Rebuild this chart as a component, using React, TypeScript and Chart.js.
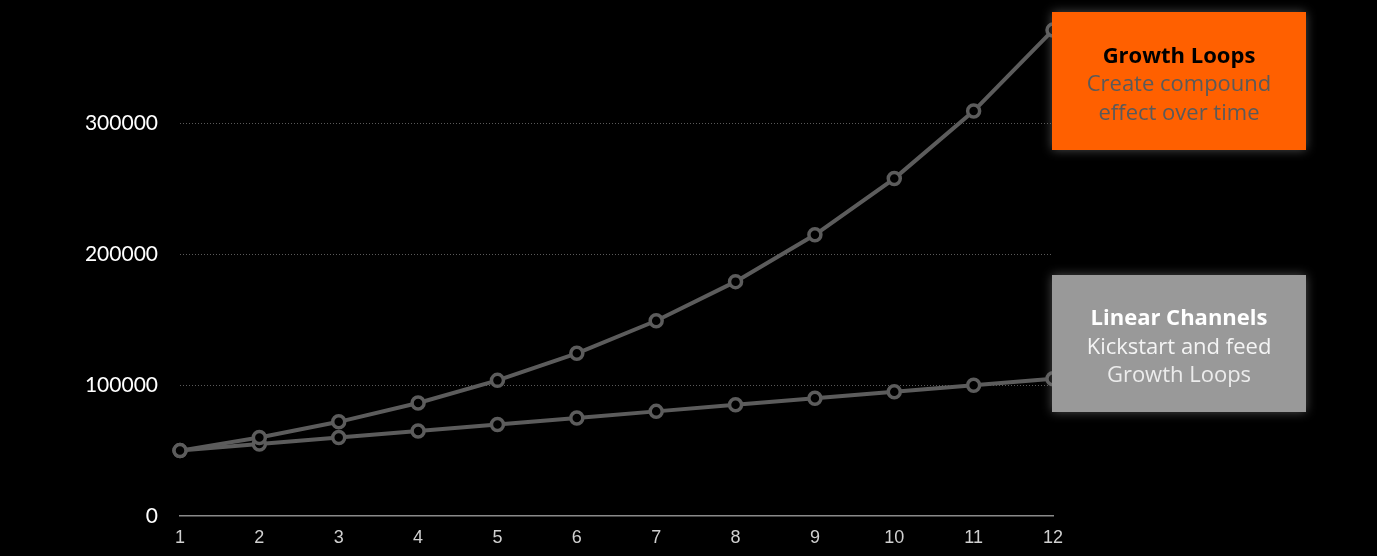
import React, { useEffect, useRef } from "react";
import { Chart, registerables } from "chart.js";

Chart.register(...registerables);

const periods = ["1", "2", "3", "4", "5", "6", "7", "8", "9", "10", "11", "12"];
const growthLoops = [50000, 60000, 72000, 86400, 103700, 124400, 149300, 179200, 215000, 258000, 309600, 371500];
const linearChannels = [50000, 55000, 60000, 65000, 70000, 75000, 80000, 85000, 90000, 95000, 100000, 105000];
const yTicks = [0, 100000, 200000, 300000];

const W = 1377;
const H = 556;

export default function App() {
  const ref = useRef<HTMLCanvasElement | null>(null);

  useEffect(() => {
    if (!ref.current) return;
    const lineColor = "#5c5c5c";
    const chart = new Chart(ref.current, {
      type: "line",
      data: {
        labels: periods,
        datasets: [
          {
            label: "Growth Loops",
            data: growthLoops,
            borderColor: lineColor,
            borderWidth: 4,
            pointRadius: 6,
            pointBorderWidth: 3.5,
            pointBorderColor: lineColor,
            pointBackgroundColor: "#000",
            tension: 0,
          },
          {
            label: "Linear Channels",
            data: linearChannels,
            borderColor: lineColor,
            borderWidth: 4,
            pointRadius: 6,
            pointBorderWidth: 3.5,
            pointBorderColor: lineColor,
            pointBackgroundColor: "#000",
            tension: 0,
          },
        ],
      },
      options: {
        animation: false,
        responsive: false,
        maintainAspectRatio: false,
        layout: { padding: { left: 0, right: 324, top: 19, bottom: 0 } },
        plugins: { legend: { display: false }, tooltip: { enabled: false } },
        scales: {
          x: {
            offset: false,
            grid: { display: false, drawTicks: false },
            border: { display: true, color: "#8a8a8a", width: 1.5 },
            ticks: {
              color: "#d0d0d0",
              font: { family: "'Liberation Sans', sans-serif", size: 18 },
              padding: 11,
              maxRotation: 0,
              autoSkip: false,
            },
            afterFit: (s: any) => {
              s.height = 40;
            },
          },
          y: {
            min: 0,
            max: 380000,
            grid: {
              drawTicks: false,
              color: (ctx: any) => (ctx.tick && ctx.tick.value === 0 ? "rgba(0,0,0,0)" : "#5a5a5a"),
              lineWidth: 1,
            },
            border: { display: false, dash: [1, 2] },
            ticks: {
              color: "#ffffff",
              font: { family: "Lato, sans-serif", size: 21 },
              padding: 22,
              callback: (v: any) => String(v),
            },
            afterBuildTicks: (s: any) => {
              s.ticks = yTicks.map((v) => ({ value: v }));
            },
            afterFit: (s: any) => {
              s.width = 180;
              s.paddingTop = 0;
              s.paddingBottom = 0;
            },
          },
        },
      },
    });
    return () => chart.destroy();
  }, []);

  const boxBase: React.CSSProperties = {
    position: "absolute",
    left: 1052,
    width: 254,
    boxSizing: "border-box",
    paddingTop: 3,
    display: "flex",
    flexDirection: "column",
    alignItems: "center",
    justifyContent: "center",
    fontFamily: "'Open Sans', sans-serif",
    fontSize: 22,
    lineHeight: "28.5px",
    textAlign: "center",
    boxShadow: "0 0 10px rgba(140,140,140,0.55)",
  };

  return (
    <div style={{ position: "fixed", left: 0, top: 0, width: W, height: H, background: "#000", overflow: "hidden" }}>
      <canvas ref={ref} width={W} height={H} style={{ position: "absolute", left: 0, top: 0, width: W, height: H }} />
      <div style={{ ...boxBase, top: 12, height: 138, background: "#ff6000" }}>
        <div style={{ fontWeight: 700, color: "#000" }}>Growth Loops</div>
        <div style={{ color: "#5a5a5a" }}>Create compound</div>
        <div style={{ color: "#5a5a5a" }}>effect over time</div>
      </div>
      <div style={{ ...boxBase, top: 275, height: 137, background: "#999999" }}>
        <div style={{ fontWeight: 700, color: "#fff" }}>Linear Channels</div>
        <div style={{ color: "#f4f4f4" }}>Kickstart and feed</div>
        <div style={{ color: "#ececec" }}>Growth Loops</div>
      </div>
    </div>
  );
}
